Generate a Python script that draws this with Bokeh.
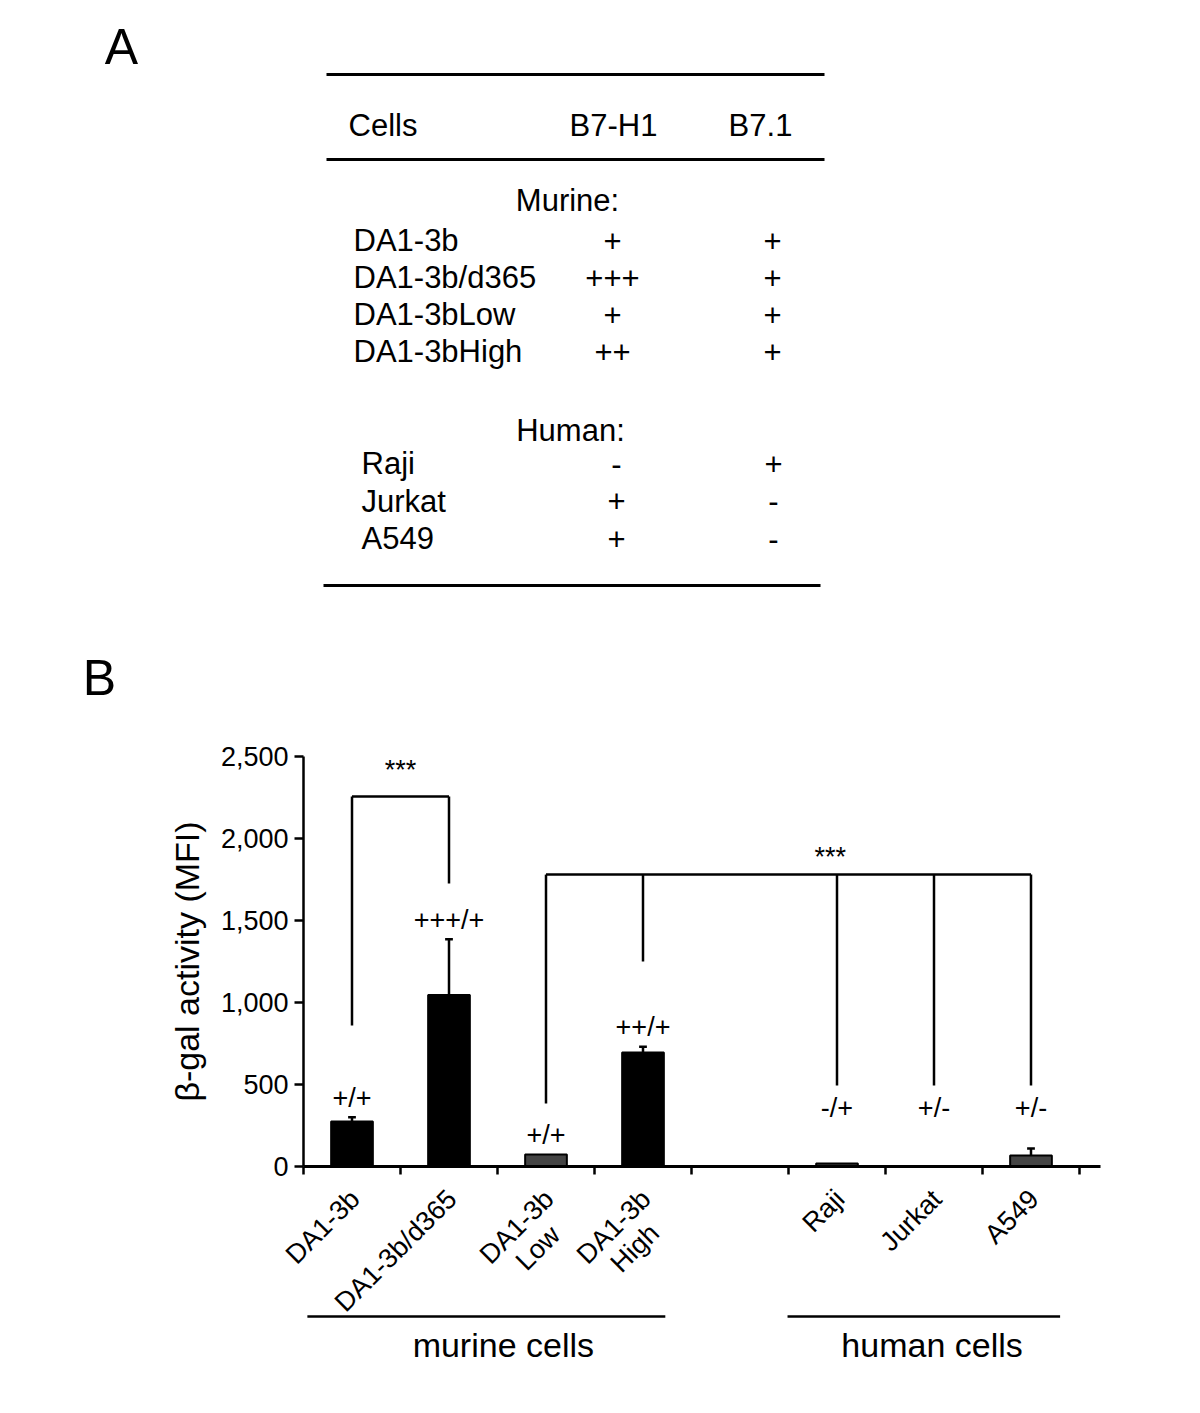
import math
from bokeh.plotting import figure
from bokeh.models import Range1d, FixedTicker, NumeralTickFormatter, LinearAxis
from bokeh.layouts import column
from bokeh.embed import file_html
from bokeh.resources import INLINE
from bokeh.core.properties import value

FONT = "Liberation Sans"
TF = value(FONT)

# ---------------- Panel A: table data ----------------
table_header = ["Cells", "B7-H1", "B7.1"]
murine_cells = ["DA1-3b", "DA1-3b/d365", "DA1-3bLow", "DA1-3bHigh"]
murine_b7h1 = ["+", "+++", "+", "++"]
murine_b71 = ["+", "+", "+", "+"]
human_cells = ["Raji", "Jurkat", "A549"]
human_b7h1 = ["-", "+", "+"]
human_b71 = ["+", "-", "-"]

# ---------------- Panel B: bar chart data ----------------
categories = ["DA1-3b", "DA1-3b/d365", "DA1-3b\nLow", "DA1-3b\nHigh", "", "Raji", "Jurkat", "A549"]
mfi = [275, 1045, 73, 695, None, 18, 3, 67]
mfi_err = [25, 340, 0, 35, None, 0, 0, 43]
phenotype = ["+/+", "+++/+", "+/+", "++/+", "", "-/+", "+/-", "+/-"]
is_murine = [True, True, True, True, None, False, False, False]
bar_shade = ["black", "black", "#444444", "black", None, "#444444", "#444444", "#444444"]
y_ticks = [0, 500, 1000, 1500, 2000, 2500]
groups = ["murine cells", "human cells"]

# significance brackets: members, bracket height, lower end of each leg
sig1_members = ["DA1-3b", "DA1-3b/d365"]
sig1_top = 2256
sig1_ends = [860, 1726]
sig2_members = ["DA1-3b\nLow", "DA1-3b\nHigh", "Raji", "Jurkat", "A549"]
sig2_top = 1780
sig2_ends = [384, 1250, 494, 494, 494]
sig_label = "***"

W = 1200

# ================= Figure A (table) =================
HA = 730
pA = figure(width=W, height=HA, x_range=Range1d(0, W), y_range=Range1d(HA, 0),
            x_axis_type=None, y_axis_type=None, output_backend="svg",
            toolbar_location=None, min_border=0)
pA.frame_align = False
pA.outline_line_color = None

pA.text(x=[121, 99], y=[46, 677], text=["A", "B"], text_font=TF, text_font_size="50px",
        text_align="center", text_baseline="middle", text_color="black")

pA.segment(x0=[326, 326, 323], y0=[74, 159, 585], x1=[824, 824, 820], y1=[74, 159, 585],
           line_width=3, line_color="black")

FS_T = "31px"
pA.text(x=[348], y=[125], text=[table_header[0]], text_font=TF, text_font_size=FS_T,
        text_align="left", text_baseline="middle", text_color="black")
pA.text(x=[613, 760], y=[125, 125], text=table_header[1:], text_font=TF, text_font_size=FS_T,
        text_align="center", text_baseline="middle", text_color="black")
pA.text(x=[567, 570], y=[200, 430], text=["Murine:", "Human:"], text_font=TF,
        text_font_size=FS_T, text_align="center", text_baseline="middle", text_color="black")

m_y = [240 + 37 * i for i in range(len(murine_cells))]
pA.text(x=[353] * len(murine_cells), y=m_y, text=murine_cells, text_font=TF, text_font_size=FS_T,
        text_align="left", text_baseline="middle", text_color="black")
pA.text(x=[612] * len(murine_cells), y=m_y, text=murine_b7h1, text_font=TF, text_font_size=FS_T,
        text_align="center", text_baseline="middle", text_color="black")
pA.text(x=[772] * len(murine_cells), y=m_y, text=murine_b71, text_font=TF, text_font_size=FS_T,
        text_align="center", text_baseline="middle", text_color="black")

h_y = [463 + 37.5 * i for i in range(len(human_cells))]
pA.text(x=[361] * len(human_cells), y=h_y, text=human_cells, text_font=TF, text_font_size=FS_T,
        text_align="left", text_baseline="middle", text_color="black")
pA.text(x=[616] * len(human_cells), y=h_y, text=human_b7h1, text_font=TF, text_font_size=FS_T,
        text_align="center", text_baseline="middle", text_color="black")
pA.text(x=[773] * len(human_cells), y=h_y, text=human_b71, text_font=TF, text_font_size=FS_T,
        text_align="center", text_baseline="middle", text_color="black")

# ================= Figure B (bar chart) =================
SLOT = 97.0          # px per category slot
LEFT, RIGHT = 303, 100
FRAME_W = W - LEFT - RIGHT
x_end = FRAME_W / SLOT
centers = [i + 0.5 for i in range(len(categories))]
pos = dict(zip(categories, centers))

TOP_B, FRAME_H, BOT_B = 26, 410, 16
pB = figure(width=W, height=TOP_B + FRAME_H + BOT_B, x_range=Range1d(0, x_end),
            y_range=Range1d(0, 2500), x_axis_type=None, y_axis_type=None,
            output_backend="svg", toolbar_location=None,
            min_border_left=LEFT, min_border_right=RIGHT, min_border_top=TOP_B,
            min_border_bottom=BOT_B)
pB.frame_align = False
pB.outline_line_color = None

yaxis = LinearAxis(ticker=FixedTicker(ticks=y_ticks), formatter=NumeralTickFormatter(format="0,0"),
                   axis_label="β-gal activity (MFI)")
yaxis.axis_line_width = 2.5
yaxis.major_tick_line_width = 2.5
yaxis.major_tick_out = 9
yaxis.major_tick_in = 0
yaxis.minor_tick_line_color = None
yaxis.major_label_standoff = 6
yaxis.major_label_text_font = FONT
yaxis.major_label_text_font_size = "27px"
yaxis.major_label_text_color = "black"
yaxis.axis_label_text_font = FONT
yaxis.axis_label_text_font_size = "34px"
yaxis.axis_label_text_font_style = "normal"
yaxis.axis_label_text_color = "black"
yaxis.axis_label_standoff = 12
pB.add_layout(yaxis, "left")

boundaries = list(range(0, int(x_end) + 1))
xaxis = LinearAxis(ticker=FixedTicker(ticks=boundaries, minor_ticks=[]))
xaxis.major_label_overrides = {b: "" for b in boundaries}
xaxis.major_label_text_font_size = "0px"
xaxis.major_label_standoff = 0
xaxis.axis_line_width = 3
xaxis.major_tick_line_width = 2.5
xaxis.major_tick_out = 8
xaxis.major_tick_in = 0
xaxis.minor_tick_line_color = None
pB.add_layout(xaxis, "below")

bx = [c for c, v in zip(centers, mfi) if v is not None]
bt = [v for v in mfi if v is not None]
bc = [s for s in bar_shade if s is not None]
pB.vbar(x=bx, top=bt, bottom=0, width=0.43, fill_color=bc, line_color="black", line_width=2)

ex = [c for c, v, e in zip(centers, mfi, mfi_err) if v is not None and e]
e0 = [v for v, e in zip(mfi, mfi_err) if v is not None and e]
e1 = [v + e for v, e in zip(mfi, mfi_err) if v is not None and e]
pB.segment(x0=ex, y0=e0, x1=ex, y1=e1, line_width=2.5, line_color="black")
pB.segment(x0=[x - 0.04 for x in ex], y0=e1, x1=[x + 0.04 for x in ex], y1=e1,
           line_width=2.5, line_color="black")

# phenotype labels
lx, ly, lt = [], [], []
for c, v, e, t, m in zip(centers, mfi, mfi_err, phenotype, is_murine):
    if v is None:
        continue
    lx.append(c)
    ly.append(v + e + 120 if m else 354)
    lt.append(t)
pB.text(x=lx, y=ly, text=lt, text_font=TF, text_font_size="27px", text_align="center",
        text_baseline="middle", text_color="black")

# significance brackets
def bracket(members, top, ends):
    xs = [pos[m] for m in members]
    pB.segment(x0=[min(xs)], y0=[top], x1=[max(xs)], y1=[top], line_width=2.5, line_color="black")
    pB.segment(x0=xs, y0=[top] * len(xs), x1=xs, y1=ends, line_width=2.5, line_color="black")
    return xs

xs1 = bracket(sig1_members, sig1_top, sig1_ends)
xs2 = bracket(sig2_members, sig2_top, sig2_ends)
pB.text(x=[(min(xs1) + max(xs1)) / 2, 5.43], y=[2420, 1890], text=[sig_label, sig_label],
        text_font=TF, text_font_size="27px", text_align="center", text_baseline="middle",
        text_color="black")

# ================= Figure C (category + group labels, same x scale) =================
C_TOP = HA + TOP_B + FRAME_H + BOT_B
HC = 1405 - C_TOP
pC = figure(width=W, height=HC, x_range=Range1d(-LEFT / SLOT, (W - LEFT) / SLOT),
            y_range=Range1d(C_TOP + HC, C_TOP), x_axis_type=None, y_axis_type=None,
            output_backend="svg", toolbar_location=None, min_border=0)
pC.frame_align = False
pC.outline_line_color = None

ANG = math.pi / 4
D = math.cos(ANG)
LAB_FS = 27
LAB_Y = 1194
X_OFF = 3
first_x = [c for c, name in zip(centers, categories) if name]
first_t = [name.split("\n")[0] for name in categories if name]
pC.text(x=first_x, y=[LAB_Y] * len(first_x), text=first_t, angle=ANG, x_offset=X_OFF,
        text_font=TF, text_font_size=f"{LAB_FS}px", text_align="right", text_baseline="middle",
        text_color="black")

# second lines, centred under the first line
sec_x = [c for c, name in zip(centers, categories) if "\n" in name]
sec_t = [name.split("\n")[1] for name in categories if "\n" in name]
L1 = 3.39 * LAB_FS   # width of the first line ("DA1-3b")
LH = 30              # line spacing
pC.text(x=sec_x, y=[LAB_Y] * len(sec_x), text=sec_t, angle=ANG,
        x_offset=X_OFF + (LH - L1 / 2) * D, y_offset=(LH + L1 / 2) * D,
        text_font=TF, text_font_size=f"{LAB_FS}px", text_align="center", text_baseline="middle",
        text_color="black")

pC.segment(x0=[0.04, 4.99], y0=[1316, 1316], x1=[3.73, 7.80], y1=[1316, 1316],
           line_width=2.5, line_color="black")
pC.text(x=[2.06, 6.48], y=[1344, 1344], text=groups, text_font=TF, text_font_size="34px",
        text_align="center", text_baseline="middle", text_color="black")

layout = column(pA, pB, pC, spacing=0)
open("out.html", "w").write(file_html(layout, INLINE))
